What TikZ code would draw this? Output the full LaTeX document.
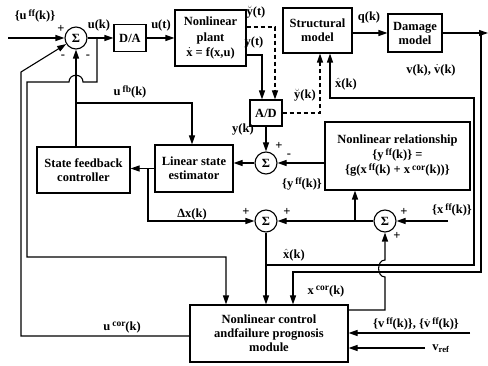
\documentclass[tikz,border=0pt]{standalone}
\usepackage{fontspec}
\setmainfont{Liberation Serif}
\usetikzlibrary{arrows.meta,calc}
\newcommand{\supx}[1]{\,\raisebox{0.55ex}{\fontsize{9.5}{9.5}\selectfont #1}}
\begin{document}
\begin{tikzpicture}[x=1pt,y=-1pt,
  every node/.style={font=\fontsize{12.5}{14}\selectfont\bfseries},
  blk/.style={draw,line width=1.1pt,inner sep=1pt,align=center},
  sumc/.style={draw,circle,line width=1.1pt,minimum size=22pt,inner sep=0pt},
  wire/.style={line width=1.1pt},
  arr/.style={wire,-{Triangle[length=9pt,width=6pt]}},
  dsh/.style={dash pattern=on 4pt off 3pt},
  lbl/.style={inner sep=0pt}
]
\useasboundingbox (0,0) rectangle (488,366);
% blocks
\node[blk,minimum width=32pt,minimum height=27pt] (da) at (130,38) {D/A};
\node[blk,minimum width=71pt,minimum height=56pt,font=\fontsize{12.5}{15.5}\selectfont\bfseries] (plant) at (210.5,38) {Nonlinear\\plant\\$\dot{\mbox{x}}$ = f(x,u)};
\node[blk,minimum width=69pt,minimum height=45pt] (struct) at (317.5,30.5) {Structural\\model};
\node[blk,minimum width=54pt,minimum height=38pt] (damage) at (415,33) {Damage\\model};
\node[blk,minimum width=32pt,minimum height=26pt] (ad) at (266,113) {A/D};
\node[blk,minimum width=145pt,minimum height=68pt,font=\fontsize{12.5}{15}\selectfont\bfseries] (nr) at (397.5,156) {Nonlinear relationship\\\{y\supx{ff}(k)\} =\\\{g(x\supx{ff}(k) + x\supx{cor}(k))\}};
\node[blk,minimum width=93pt,minimum height=46pt] (sfc) at (83.5,170) {State feedback\\controller};
\node[blk,minimum width=78pt,minimum height=47pt] (lse) at (194,168.5) {Linear state\\estimator};
\node[blk,minimum width=158pt,minimum height=57pt] (mod) at (269,333.5) {Nonlinear control\\andfailure prognosis\\module};
% summing junctions
\node[sumc] (s1) at (76,38) {Σ};
\node[sumc] (s4) at (266,163) {Σ};
\node[sumc] (s2) at (266,221) {Σ};
\node[sumc] (s3) at (385,221) {Σ};
% coordinates
\coordinate (uin) at (8,38);
\coordinate (dj) at (481,33);
\coordinate (dend) at (488,33);
\coordinate (xj) at (266,265);
\coordinate (uj) at (97,38);
\coordinate (fbj) at (76,103);
\coordinate (dxj) at (148,168.5);
\coordinate (nrj) at (355,221);
\coordinate (xffin) at (448,221);
\coordinate (vffin) at (470,333);
\coordinate (vrefin) at (425,348);
% forward path
\draw[arr] (uin) -- (s1.west);
\draw[arr] (s1.east) -- (da.west);
\draw[arr] (da.east) -- (plant.west);
\draw[arr] ([yshift=-17pt]plant.east) -| ([xshift=-4pt]ad.north);
\draw[arr,dsh] ([yshift=11pt]plant.east) -| ([xshift=9pt]ad.north);
\draw[arr,dsh] (ad.east) -| ([xshift=2.5pt]struct.south);
\draw[arr] (struct.east |- damage.west) -- (damage.west);
\draw[arr] (damage.east) -- (dend);
\draw[arr] (dj) -- (481,272) -| ([xshift=24pt]mod.north);
% xhat
\draw[arr] (s2.south) -- (s2.south |- mod.north);
\draw[arr] (xj) -- (474,265) -- (474,98) -| ([xshift=12.5pt]struct.south);
% xcor
\draw[arr] ([yshift=23.5pt]mod.east) -| (385,277) .. controls (376.5,277) and (376.5,260) .. (385,260) -- (s3.south);
% u(k) feedback
\draw[arr] (uj) -- (97,82) -- (83,82) .. controls (83,73) and (69,73) .. (69,82) -- (27,82) -- (27,257) -| ([xshift=-43pt]mod.north);
% state feedback
\draw[arr] (s1.south |- sfc.north) -- (s1.south);
\draw[arr] (fbj) -| ([xshift=-2pt]lse.north);
% ucor
\draw[arr] ([yshift=-2.5pt]mod.west) -- (21,336) -- (21,72) -- (s1);
% estimator
\draw[arr] (lse.west) -- (lse.west -| sfc.east);
\draw[arr] (dxj) |- (s2.west);
\draw[arr] (ad.south) -- (s4.north);
\draw[arr] (s4.west) -- (s4.west -| lse.east);
\draw[arr] (nr.west |- s4.east) -- (s4.east);
\draw[arr] (xffin) -- (s3.east);
\draw[arr] (s3.west) -- (s2.east);
\draw[arr] (nrj) -- ([xshift=-42.5pt]nr.south);
\draw[arr] (vffin) -- (vffin -| mod.east);
\draw[arr] (vrefin) -- (vrefin -| mod.east);
% labels
\node[lbl] (l1) at (35,16) {\{u\supx{ff}(k)\}};
\node[lbl] (l2) at (61,29) {+};
\node[lbl] (l3) at (63,57) {-};
\node[lbl] (l4) at (88,57) {-};
\node[lbl] (l5) at (99,25) {u(k)};
\node[lbl] (l6) at (161,25) {u(t)};
\node[lbl] (l7) at (256,12) {$\breve{\mbox{y}}$(t)};
\node[lbl] (l8) at (254,43) {y(t)};
\node[lbl] (l9) at (369,17) {q(k)};
\node[lbl] (l10) at (431,70) {v(k), $\dot{\mbox{v}}$(k)};
\node[lbl] (l11) at (346,84) {$\hat{\mbox{x}}$(k)};
\node[lbl] (l12) at (305,95) {$\breve{\mbox{y}}$(k)};
\node[lbl] (l13) at (130,92) {u\supx{fb}(k)};
\node[lbl] (l14) at (243,130) {y(k)};
\node[lbl] (l15) at (279,146) {+};
\node[lbl] (l16) at (289,156) {-};
\node[lbl] (l17) at (302,184) {\{y\supx{ff}(k)\}};
\node[lbl] (l18) at (192,214) {Δx(k)};
\node[lbl] (l19) at (246,212) {+};
\node[lbl] (l20) at (287,212) {+};
\node[lbl] (l21) at (404,212) {+};
\node[lbl] (l22) at (397,236) {+};
\node[lbl] (l23) at (452,210) {\{x\supx{ff}(k)\}};
\node[lbl] (l24) at (294,255) {$\hat{\mbox{x}}$(k)};
\node[lbl] (l25) at (326,291) {x\supx{cor}(k)};
\node[lbl] (l26) at (122,327) {u\supx{cor}(k)};
\node[lbl] (l27) at (416,324) {\{v\supx{ff}(k)\}, \{$\dot{\mbox{v}}$\supx{ff}(k)\}};
\node[lbl] (l28) at (441,349) {v\textsubscript{ref}};
\end{tikzpicture}
\end{document}
